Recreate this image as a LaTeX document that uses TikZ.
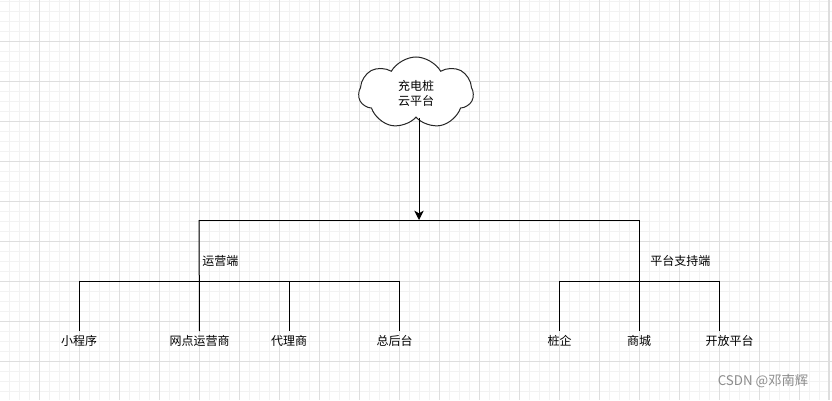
\documentclass[tikz,border=0pt]{standalone}
\usepackage{fontspec}
\setmainfont{Noto Sans CJK SC}
\usepackage{xcolor}
\usetikzlibrary{shapes.symbols,arrows.meta}
\definecolor{gridminor}{HTML}{F2F2F2}
\definecolor{gridmajor}{HTML}{DEDEDE}
\definecolor{marktext}{HTML}{8C8C8C}
\tikzset{
	leaf/.style={inner sep=3pt},
	bus/.style={line width=0.75pt},
	yunshape/.style={cloud, cloud puffs=7, cloud puff arc=120, aspect=1.6, draw=black!85, line width=0.75pt, fill=white, minimum width=86pt, minimum height=54pt, align=center, inner sep=0pt}
}

\begin{document}
\begin{tikzpicture}[x=0.75pt,y=-0.75pt,font=\fontsize{9}{11.25}\selectfont]
		\fill[white] (0,0) rectangle (832,400);
		\useasboundingbox (0,0) rectangle (832,400);
		\foreach \i in {9,19,...,829}
		{
		\draw[gridminor,line width=0.75pt] (\i,0) to (\i,400);
		}
		\foreach \j in {1,11,...,399}
		{
		\draw[gridminor,line width=0.75pt] (0,\j) to (832,\j);
		}
		\foreach \i in {39,79,...,799}
		{
		\draw[gridmajor,line width=0.75pt] (\i,0) to (\i,400);
		}
		\foreach \j in {41,81,...,361}
		{
		\draw[gridmajor,line width=0.75pt] (0,\j) to (832,\j);
		}
		\draw[gridmajor,line width=1.5pt] (829,0) to (829,400);
		
		\node[yunshape] (yun) at (416,93) {充电桩\\云平台};
		\coordinate (hub) at (419,220);
		\coordinate (topl) at (199,220);
		\coordinate (topr) at (639,220);
		\draw[bus,-{Stealth[length=7pt,width=7pt,inset=2pt]}] (yun.south -| hub) to (hub);
		\draw[bus] (topl) to (topr);
		
		\foreach \x/\n/\t in {79/xcx/小程序,199.5/wd/网点运营商,289/dl/代理商,394.5/zht/总后台,559.5/zq/桩企,639/sc/商城,729.5/kf/开放平台}
		{
		\node[leaf] (\n) at (\x,341) {\t};
		}
		\node[leaf,anchor=west,inner sep=0pt] (yy) at (202,261) {运营端};
		\node[leaf,anchor=west,inner sep=0pt] (pt) at (650,261) {平台支持端};
		
		\coordinate (opsl) at (79,281);
		\coordinate (opsr) at (399,281);
		\coordinate (supl) at (559,281);
		\coordinate (supr) at (719,281);
		\draw[bus] (opsl) to (opsr);
		\draw[bus] (supl) to (supr);
		\draw[bus] (topl) to (wd.north);
		\draw[bus] (topr) to (sc.north);
		\draw[bus] (opsl) to (opsl |- xcx.north);
		\draw[bus] (dl.north |- opsl) to (dl.north);
		\draw[bus] (opsr) to (opsr |- zht.north);
		\draw[bus] (supl) to (supl |- zq.north);
		\draw[bus] (supr) to (supr |- kf.north);
		
		\node[text=marktext,font=\fontsize{10}{12}\selectfont,anchor=east] (mark) at (813,381) {CSDN @邓南辉};
	\end{tikzpicture}
\end{document}
